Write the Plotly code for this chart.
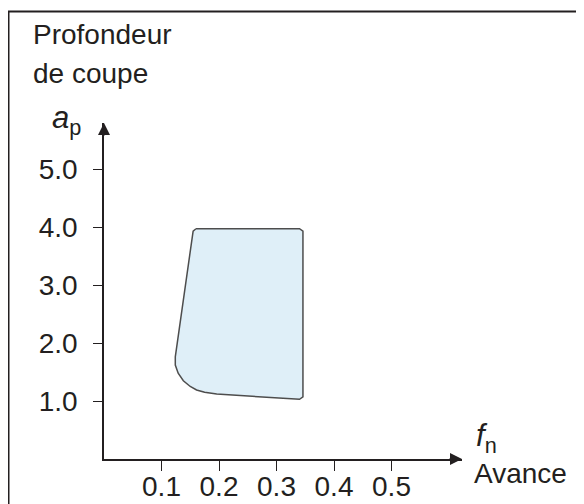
import plotly.graph_objects as go

# contour de la zone de travail (avance f_n, profondeur a_p)
zone_fn = [0.160, 0.340, 0.346, 0.346, 0.340, 0.196, 0.175, 0.161, 0.150, 0.138, 0.129, 0.124, 0.124, 0.155, 0.160]
zone_ap = [3.97, 3.97, 3.93, 1.07, 1.03, 1.12, 1.15, 1.19, 1.25, 1.35, 1.48, 1.62, 1.76, 3.93, 3.97]

x_ticks = [0.1, 0.2, 0.3, 0.4, 0.5]
x_labels = ["0.1", "0.2", "0.3", "0.4", "0.5"]
y_ticks = [1.0, 2.0, 3.0, 4.0, 5.0]
y_labels = ["1.0", "2.0", "3.0", "4.0", "5.0"]

# la page html ajoute une marge de 8 px autour du graphique
OFF = 8
W, H = 584 - OFF, 504 - OFF
L, T = 104 - OFF, 123 - OFF
PW, PH = 358, 336
R, B = W - L - PW, H - T - PH
X_MAX = PW / 575.0
Y_MAX = PH / 58.0

INK = "#231f20"
FONT = "Liberation Sans, Arial, sans-serif"


def px(x):
    # pixel de la fenetre -> coordonnee papier
    return (x - OFF - L) / PW


def py(y):
    return (H - B - (y - OFF)) / PH


fig = go.Figure()

fig.add_trace(
    go.Scatter(
        x=zone_fn,
        y=zone_ap,
        mode="lines",
        fill="toself",
        fillcolor="#dfeff8",
        line=dict(color="#4d4d4d", width=1.5),
        hoverinfo="skip",
        showlegend=False,
        cliponaxis=False,
    )
)

axis_common = dict(
    showgrid=False,
    zeroline=False,
    showline=True,
    linecolor=INK,
    linewidth=1.5,
    ticks="outside",
    tickcolor=INK,
    tickwidth=1.2,
    tickfont=dict(family=FONT, size=28, color=INK),
    automargin=False,
)

fig.update_xaxes(
    range=[0, X_MAX],
    tickvals=x_ticks,
    ticktext=x_labels,
    ticklen=10,
    ticklabelstandoff=-8,
    **axis_common,
)
fig.update_yaxes(
    range=[0, Y_MAX],
    tickvals=y_ticks,
    ticktext=y_labels,
    ticklen=9,
    ticklabelstandoff=10,
    **axis_common,
)

# fleches au bout des axes
fig.add_annotation(x=X_MAX, y=0, ax=-14, ay=0, text="", showarrow=True,
                   arrowhead=2, arrowsize=1.6, arrowwidth=1.5, arrowcolor=INK)
fig.add_annotation(x=0, y=Y_MAX, ax=0, ay=14, text="", showarrow=True,
                   arrowhead=2, arrowsize=1.6, arrowwidth=1.5, arrowcolor=INK)

txt = dict(xref="paper", yref="paper", showarrow=False,
           font=dict(family=FONT, size=28, color=INK))
fig.add_annotation(x=px(31), y=py(34), text="Profondeur", xanchor="left", yanchor="middle", **txt)
fig.add_annotation(x=px(31), y=py(73), text="de coupe", xanchor="left", yanchor="middle", **txt)
fig.add_annotation(x=px(472), y=py(473), text="Avance", xanchor="left", yanchor="middle", **txt)

sym = dict(xref="paper", yref="paper", showarrow=False,
           font=dict(family=FONT, size=31, color=INK))
fig.add_annotation(x=px(50), y=py(120), text="<i>a</i><sub>p</sub>", xanchor="left", yanchor="middle", **sym)
fig.add_annotation(x=px(474), y=py(438), text="<i>f</i><sub>n</sub>", xanchor="left", yanchor="middle", **sym)

# cadre
fig.add_shape(type="line", xref="paper", yref="paper", x0=px(8.5), x1=px(8.5), y0=py(11), y1=py(520),
              line=dict(color=INK, width=2))
fig.add_shape(type="line", xref="paper", yref="paper", x0=px(8), x1=px(600), y0=py(11.5), y1=py(11.5),
              line=dict(color=INK, width=2))

fig.update_layout(
    width=W,
    height=H,
    margin=dict(l=L, r=R, t=T, b=B, autoexpand=False),
    paper_bgcolor="white",
    plot_bgcolor="white",
    showlegend=False,
)

fig.write_html("out.html")
